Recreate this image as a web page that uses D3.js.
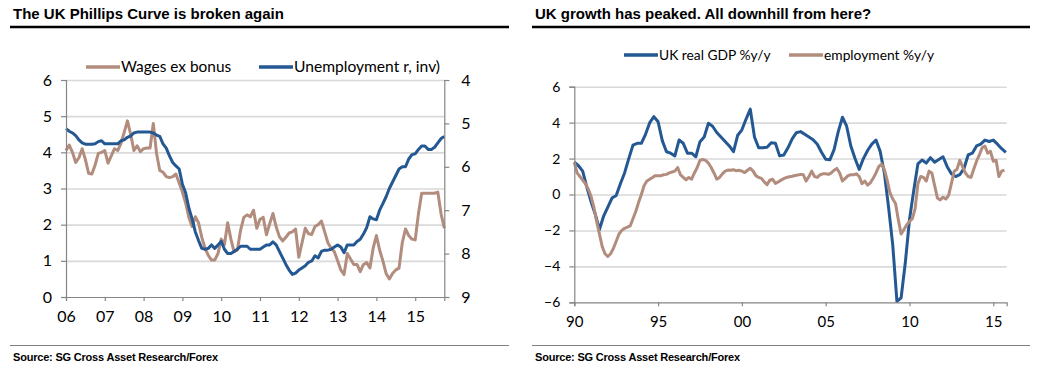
<!DOCTYPE html>
<html>
<head>
<meta charset="utf-8">
<script src="https://cdn.jsdelivr.net/npm/d3@7"></script>
<style>
  body { margin: 0; background: #fff; }
</style>
</head>
<body>
<script>

// ---- left panel: monthly from Jan 2006 ----
const wageStart = 2006;
const wages = [
  4.05, 4.2, 4.0, 3.72, 3.85, 4.1, 3.8, 3.42, 3.4, 3.65,
  3.97, 4.0, 4.05, 3.7, 3.9, 4.1, 4.05, 4.25, 4.55, 4.87,
  4.5, 4.05, 4.18, 4.02, 4.1, 4.12, 4.12, 4.8, 3.97, 3.5,
  3.45, 3.33, 3.3, 3.33, 3.4, 3.15, 2.9, 2.6, 2.2, 1.95,
  2.22, 2.05, 1.65, 1.35, 1.15, 1.02, 1.02, 1.2, 1.6, 1.45,
  2.05, 1.6, 1.25, 1.3, 1.85, 2.2, 2.27, 2.22, 2.4, 1.9,
  2.15, 2.2, 1.72, 2.03, 2.31, 1.94, 1.67, 1.55, 1.65, 1.77,
  1.8, 1.88, 1.1, 1.5, 1.9, 1.75, 1.73, 1.95, 2.0, 2.1,
  1.8, 1.5, 1.35, 1.25, 1.0, 0.75, 0.62, 1.2, 1.05, 0.9,
  0.9, 0.7, 0.9, 0.95, 0.8, 1.35, 1.7, 1.3, 1.0, 0.65,
  0.5, 0.65, 0.75, 0.8, 1.5, 1.88, 1.7, 1.6, 1.58, 2.3,
  2.87, 2.87, 2.87, 2.87, 2.87, 2.9, 2.3, 1.9
];
const unemployment = [
  5.12, 5.18, 5.22, 5.28, 5.38, 5.45, 5.48, 5.48, 5.48, 5.47,
  5.42, 5.4, 5.47, 5.47, 5.47, 5.47, 5.47, 5.4, 5.38, 5.32,
  5.29, 5.22, 5.2, 5.2, 5.2, 5.2, 5.2, 5.22, 5.27, 5.3,
  5.47, 5.57, 5.75, 5.9, 5.98, 6.05, 6.4, 6.6, 6.95, 7.2,
  7.5, 7.7, 7.88, 7.9, 7.88, 7.8, 7.88, 7.8, 7.72, 7.9,
  8.0, 8.0, 7.95, 7.9, 7.83, 7.83, 7.83, 7.9, 7.9, 7.9,
  7.9, 7.85, 7.8, 7.8, 7.73, 7.8, 7.95, 8.1, 8.25, 8.38,
  8.48, 8.45, 8.38, 8.33, 8.28, 8.2, 8.17, 8.05, 8.1, 7.95,
  7.92, 7.92, 7.9, 7.85, 7.8, 7.85, 7.98, 7.8, 7.8, 7.8,
  7.72, 7.67, 7.55, 7.4, 7.15, 7.2, 7.22, 7.0, 6.85, 6.69,
  6.5, 6.35, 6.2, 6.05, 6.0, 6.0, 5.82, 5.72, 5.7, 5.6,
  5.52, 5.52, 5.6, 5.6, 5.55, 5.45, 5.35, 5.3
];
const leftYears = [2006, 2007, 2008, 2009, 2010, 2011, 2012, 2013, 2014, 2015];
const leftTicks = [0, 1, 2, 3, 4, 5, 6];
const rightTicks = [4, 5, 6, 7, 8, 9];

// ---- right panel: GDP quarterly, employment every two months, from 1990 ----
const growthStart = 1990;
const gdp = [
  1.8, 1.6, 1.3, 0.4, -0.4, -1.1, -1.95, -1.2, -0.7, -0.2,
  -0.05, 0.6, 1.2, 2.0, 2.75, 2.85, 2.85, 3.35, 4.0, 4.33,
  4.05, 3.0, 2.38, 2.3, 2.15, 3.03, 2.85, 2.3, 2.3, 2.1,
  2.94, 3.2, 3.96, 3.8, 3.45, 3.2, 2.95, 2.7, 2.38, 3.3,
  3.6, 4.2, 4.75, 3.2, 2.6, 2.6, 2.63, 2.88, 2.85, 2.15,
  2.2, 2.6, 3.1, 3.44, 3.5, 3.35, 3.2, 3.05, 2.8, 2.35,
  1.96, 1.93, 2.5, 3.5, 4.3, 3.8, 2.7, 2.0, 1.4, 2.0,
  2.45, 2.8, 3.03, 2.4, 1.2, -0.7, -2.8, -5.95, -5.75, -3.8,
  -1.4, 0.2, 1.7, 1.92, 1.75, 2.05, 1.8, 1.95, 2.1, 1.55,
  1.15, 1.0, 1.1, 1.45, 2.2, 2.3, 2.7, 2.8, 3.03, 2.95,
  3.03, 2.8, 2.55, 2.35
];
const employment = [
  1.8, 1.2, 1.0, 0.8, 0.6, 0.3, -0.1, -0.7, -1.5, -2.2,
  -2.9, -3.3, -3.45, -3.3, -3.0, -2.6, -2.2, -2.0, -1.88, -1.82,
  -1.75, -1.35, -0.95, -0.45, 0.0, 0.5, 0.75, 0.85, 0.95, 1.05,
  1.05, 1.05, 1.1, 1.12, 1.2, 1.25, 1.3, 1.5, 1.1, 0.95,
  0.82, 0.95, 0.85, 1.2, 1.5, 1.9, 1.95, 1.9, 1.75, 1.5,
  1.2, 0.85, 0.95, 1.15, 1.3, 1.36, 1.35, 1.38, 1.32, 1.35,
  1.3, 1.22, 1.35, 1.46, 1.3, 1.05, 0.95, 0.9, 0.7, 0.55,
  0.8, 0.85, 0.62, 0.7, 0.8, 0.88, 0.95, 0.99, 1.02, 1.06,
  1.08, 1.12, 1.1, 0.75, 1.0, 1.3, 1.0, 0.95, 1.1, 1.15,
  1.15, 1.12, 1.2, 1.35, 1.45, 1.2, 0.75, 0.9, 1.05, 1.1,
  1.1, 1.15, 1.0, 0.6, 0.75, 0.52, 0.65, 0.9, 1.2, 1.55,
  1.7, 1.4, 0.8, 0.1, -0.25, -0.5, -1.4, -2.2, -1.95, -1.7,
  -1.5, -1.35, -0.8, 0.6, 1.0, 0.95, 0.75, 1.3, 1.2, 0.5,
  -0.2, -0.3, -0.15, -0.25, -0.05, 0.6, 1.3, 1.4, 1.9, 1.55,
  1.2, 1.0, 0.95, 1.4, 1.85, 2.2, 2.6, 2.7, 2.3, 2.4,
  1.85, 1.9, 1.0, 1.3, 1.36
];
const growthYears = [1990, 1995, 2000, 2005, 2010, 2015];
const growthTicks = [-6, -4, -2, 0, 2, 4, 6];

const titles = ["The UK Phillips Curve is broken again", "UK growth has peaked. All downhill from here?"];
const sourceText = "Source: SG Cross Asset Research/Forex";

const blue = "#245893";
const brown = "#b28c7d";
const gridColor = "#d9d9d9";
const axisColor = "#868686";
const labelFont = "Lato, 'Liberation Sans', sans-serif";
const helv = "'Liberation Sans', Arial, sans-serif";

const svg = d3.select("body")
  .append("svg")
  .attr("width", 1039)
  .attr("height", 386)
  .style("background-color", "#fff");

const twoDigit = d => String(d % 100).padStart(2, "0");
const intFormat = d3.format("d");

function frame(x0, x1, title) {
  svg.append("text")
    .attr("x", x0 + 3)
    .attr("y", 19)
    .text(title)
    .style("font-family", helv)
    .style("font-weight", "bold")
    .style("font-size", "15px")
    .style("fill", "#000");

  svg.append("line")
    .attr("x1", x0).attr("x2", x1)
    .attr("y1", 27).attr("y2", 27)
    .attr("stroke", "#000")
    .attr("stroke-width", 2.5);

  svg.append("line")
    .attr("x1", x0).attr("x2", x1)
    .attr("y1", 345.5).attr("y2", 345.5)
    .attr("stroke", "#808080")
    .attr("stroke-width", 1);

  svg.append("text")
    .attr("x", x0 + 3)
    .attr("y", 361)
    .text(sourceText)
    .style("font-family", helv)
    .style("font-weight", "bold")
    .style("font-size", "11px")
    .style("letter-spacing", "-0.2px")
    .style("fill", "#000");
}

function legendItem(x, y, color, label, size) {
  svg.append("line")
    .attr("x1", x).attr("x2", x + 34)
    .attr("y1", y).attr("y2", y)
    .attr("stroke", color)
    .attr("stroke-width", 3.5);
  svg.append("text")
    .attr("x", x + 35)
    .attr("y", y)
    .attr("dy", "0.35em")
    .text(label)
    .style("font-family", labelFont)
    .style("font-size", size)
    .style("fill", "#000");
}

function styleAxis(g, size) {
  g.select(".domain").attr("stroke", axisColor).attr("stroke-width", 1.2);
  g.selectAll(".tick line").attr("stroke", axisColor).attr("stroke-width", 1.2);
  g.selectAll(".tick text")
    .style("font-family", labelFont)
    .style("font-size", size)
    .style("fill", "#000");
}

/* ---------------- left panel ---------------- */
frame(10, 509, titles[0]);

const xL = d3.scaleLinear().domain([wageStart, wageStart + 117 / 12]).range([66, 444.3]);
const yL = d3.scaleLinear().domain([0, 6]).range([297, 80]);
const yR = d3.scaleLinear().domain([4, 9]).range([80, 297]);

svg.append("g")
  .attr("transform", "translate(66,0)")
  .call(d3.axisLeft(yL).tickValues(leftTicks.slice(1)).tickSize(-(444.3 - 66)).tickFormat(""))
  .call(g => g.select(".domain").remove())
  .call(g => g.selectAll(".tick line").attr("stroke", gridColor).attr("stroke-width", 1.6));

const wageLine = d3.line()
  .x((d, i) => xL(wageStart + i / 12))
  .y(d => yL(d));
const unempLine = d3.line()
  .x((d, i) => xL(wageStart + i / 12))
  .y(d => yR(d));

svg.append("path")
  .datum(wages)
  .attr("d", wageLine)
  .attr("fill", "none")
  .attr("stroke", brown)
  .attr("stroke-width", 3)
  .attr("stroke-linejoin", "round");

svg.append("path")
  .datum(unemployment)
  .attr("d", unempLine)
  .attr("fill", "none")
  .attr("stroke", blue)
  .attr("stroke-width", 3)
  .attr("stroke-linejoin", "round");

svg.append("g")
  .attr("transform", "translate(66,0)")
  .call(d3.axisLeft(yL).tickValues(leftTicks).tickFormat(intFormat).tickSize(5).tickPadding(9))
  .call(g => styleAxis(g, "16px"));

svg.append("g")
  .attr("transform", "translate(444.3,0)")
  .call(d3.axisRight(yR).tickValues(rightTicks).tickFormat(intFormat).tickSize(5).tickPadding(12))
  .call(g => styleAxis(g, "16px"));

svg.append("g")
  .attr("transform", "translate(0,297)")
  .call(d3.axisBottom(xL).tickValues(leftYears).tickSize(4).tickFormat(twoDigit).tickPadding(10))
  .call(g => styleAxis(g, "16px"));

legendItem(86, 67, brown, "Wages ex bonus", "15.4px");
legendItem(259, 67, blue, "Unemployment r, inv)", "15.6px");

/* ---------------- right panel ---------------- */
frame(532, 1030, titles[1]);

const xG = d3.scaleLinear().domain([growthStart, 2015.8]).range([574.3, 1006.7]);
const yG = d3.scaleLinear().domain([-6, 6]).range([302.3, 86.7]);

svg.append("g")
  .attr("transform", "translate(574.3,0)")
  .call(d3.axisLeft(yG).tickValues(growthTicks.filter(v => v > -6)).tickSize(-(1006.7 - 574.3)).tickFormat(""))
  .call(g => g.select(".domain").remove())
  .call(g => g.selectAll(".tick line").attr("stroke", gridColor).attr("stroke-width", 1.6));

const gdpLine = d3.line()
  .x((d, i) => xG(growthStart + i / 4))
  .y(d => yG(d));
const empLine = d3.line()
  .x((d, i) => xG(growthStart + i / 6))
  .y(d => yG(d));

svg.append("path")
  .datum(gdp)
  .attr("d", gdpLine)
  .attr("fill", "none")
  .attr("stroke", blue)
  .attr("stroke-width", 3)
  .attr("stroke-linejoin", "round");

svg.append("path")
  .datum(employment)
  .attr("d", empLine)
  .attr("fill", "none")
  .attr("stroke", brown)
  .attr("stroke-width", 3)
  .attr("stroke-linejoin", "round");

svg.append("g")
  .attr("transform", "translate(574.3,0)")
  .call(d3.axisLeft(yG).tickValues(growthTicks).tickFormat(intFormat).tickSize(5).tickPadding(9))
  .call(g => styleAxis(g, "14px"));

svg.append("g")
  .attr("transform", "translate(0,302.3)")
  .call(d3.axisBottom(xG).tickValues(growthYears).tickSize(4).tickFormat(twoDigit).tickPadding(10))
  .call(g => styleAxis(g, "15px"));

legendItem(624, 55, blue, "UK real GDP  %y/y", "13.8px");
legendItem(789, 55, brown, "employment %y/y", "13.8px");

</script>
</body>
</html>
